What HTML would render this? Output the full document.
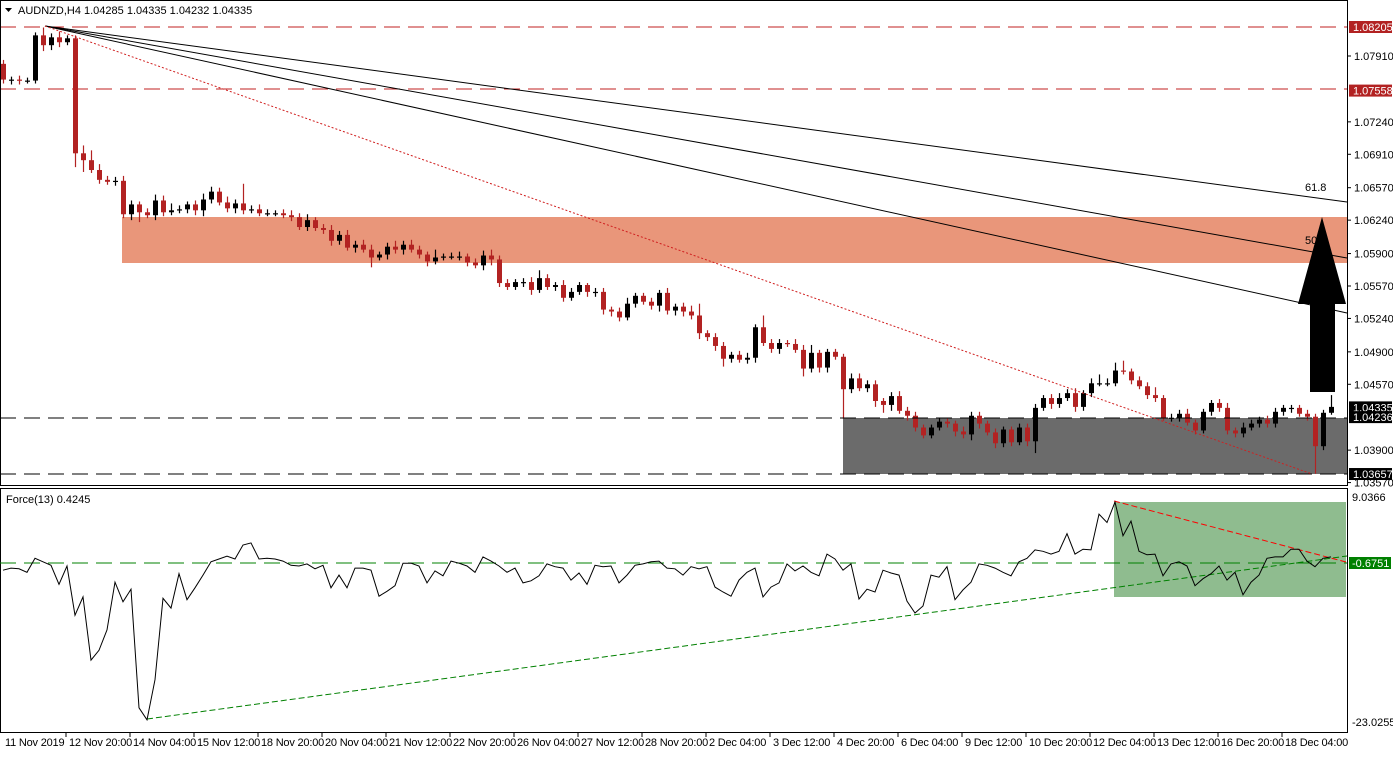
<!DOCTYPE html>
<html><head><meta charset="utf-8">
<style>
html,body{margin:0;padding:0;background:#fff;}
body{width:1393px;height:752px;overflow:hidden;font-family:"Liberation Sans",sans-serif;}
svg text{font-family:"Liberation Sans",sans-serif;font-size:11px;}
</style></head>
<body>
<svg id="chart" width="1393" height="752" viewBox="0 0 1393 752" xmlns="http://www.w3.org/2000/svg">
  <rect x="0" y="0" width="1393" height="752" fill="#fff"/>
  <g id="main-zones">
    <rect x="122" y="217" width="1225" height="46" fill="#e9967a"/>
    <rect x="843" y="418" width="504" height="56" fill="#6b6b6b"/>
  </g>
  <g id="candles"></g>
  <g id="overlays">
    <line x1="0" y1="27" x2="1347" y2="27" stroke="#c02020" stroke-width="1" stroke-dasharray="16,8"/>
    <line x1="0" y1="89" x2="1347" y2="89" stroke="#c02020" stroke-width="1" stroke-dasharray="16,8"/>
    <line x1="0" y1="418" x2="1347" y2="418" stroke="#000" stroke-width="1" stroke-dasharray="16,8"/>
    <line x1="0" y1="474" x2="1347" y2="474" stroke="#000" stroke-width="1" stroke-dasharray="16,8"/>
    <line x1="45" y1="26" x2="1347" y2="202" stroke="#000" stroke-width="1"/>
    <line x1="45" y1="26" x2="1347" y2="258" stroke="#000" stroke-width="1"/>
    <line x1="45" y1="26" x2="1347" y2="313" stroke="#000" stroke-width="1"/>
    <line x1="45" y1="26" x2="1312" y2="474" stroke="#d02020" stroke-width="1" stroke-dasharray="2,2"/>
    <text x="1305" y="191" font-size="10">61.8</text>
    <text x="1305" y="244" font-size="10">50</text>
    <polygon points="1310,392 1335,392 1335,304 1346,304 1322,217 1298,304 1310,304" fill="#000"/>
  </g>
  <text x="18" y="14">AUDNZD,H4  1.04285 1.04335 1.04232 1.04335</text>
  <polygon points="5,8 12,8 8.5,12" fill="#000"/>
  <rect x="0.5" y="0.5" width="1347" height="485" fill="none" stroke="#000"/>
  <rect x="0.5" y="488.5" width="1347" height="244" fill="none" stroke="#000"/>
  <g id="force">
    <rect x="1114" y="502" width="232" height="95" fill="#8fbc8f"/>
    <line x1="0" y1="563" x2="1347" y2="563" stroke="#008000" stroke-dasharray="16,8"/>
    <line x1="147" y1="719" x2="1347" y2="556" stroke="#008000" stroke-dasharray="6,3"/>
    <line x1="1114" y1="501" x2="1346" y2="562" stroke="#ff0000" stroke-dasharray="6,3"/>
    <text x="6" y="503">Force(13) 0.4245</text>
  </g>
  <g id="yaxis"></g>
  <g id="faxis"></g>
  <g id="xaxis"></g>
</svg>
<script>
const closes=[1.0767,1.0767,1.0766,1.0766,1.0812,1.0802,1.0810,1.0805,1.0809,1.0692,1.0685,1.0675,1.0665,1.0663,1.0664,1.0630,1.0640,1.0632,1.0629,1.0644,1.0632,1.0634,1.0635,1.0640,1.0634,1.0645,1.0653,1.0642,1.0636,1.0641,1.0634,1.0635,1.0631,1.0631,1.0631,1.0629,1.0627,1.0617,1.0624,1.0616,1.0614,1.0603,1.0609,1.0596,1.0599,1.0594,1.0586,1.0589,1.0597,1.0594,1.0599,1.0594,1.0589,1.0582,1.0586,1.0587,1.0587,1.0587,1.0581,1.0578,1.0588,1.0584,1.0560,1.0556,1.0561,1.0561,1.0553,1.0565,1.0556,1.0558,1.0545,1.0551,1.0558,1.0551,1.0551,1.0533,1.0531,1.0525,1.0539,1.0547,1.0541,1.0537,1.0550,1.0532,1.0536,1.0531,1.0527,1.0509,1.0505,1.0496,1.0483,1.0487,1.0482,1.0484,1.0515,1.0499,1.0493,1.0499,1.0498,1.0492,1.0473,1.0489,1.0474,1.0490,1.0485,1.0452,1.0463,1.0453,1.0457,1.0440,1.0436,1.0445,1.0430,1.0425,1.0413,1.0405,1.0413,1.0419,1.0417,1.0409,1.0406,1.0425,1.0417,1.0408,1.0397,1.0411,1.0398,1.0413,1.0399,1.0433,1.0443,1.0437,1.0443,1.0448,1.0434,1.0448,1.0458,1.0458,1.0458,1.0471,1.0470,1.0461,1.0455,1.0446,1.0443,1.0423,1.0423,1.0427,1.0418,1.0410,1.0429,1.0438,1.0433,1.0410,1.0407,1.0413,1.0417,1.0421,1.0417,1.0429,1.0433,1.0433,1.0427,1.0424,1.0394,1.0428,1.0434];
const firstOpen=1.0783;
const wickUpPips=[4,3,4,3,3,8,4,6,3,3,8,10,6,4,4,5,4,3,4,6,5,7,4,3,4,6,5,4,6,4,20,4,5,4,3,4,5,4,6,3,4,5,4,5,4,5,5,3,4,6,4,5,4,3,8,3,4,5,3,4,5,6,4,4,3,4,5,8,4,3,5,4,3,2,4,4,3,4,6,3,3,4,3,5,3,4,6,12,3,4,4,3,4,5,3,12,4,4,3,5,5,8,3,3,3,3,5,5,4,4,3,4,5,4,4,3,3,4,3,3,5,4,4,3,4,3,3,4,4,4,3,4,5,4,5,3,5,9,5,8,10,3,4,4,8,3,4,4,5,3,3,3,4,5,3,5,4,3,4,4,3,3,3,4,3,3,12,2];
const wickDnPips=[4,5,4,3,3,6,5,5,3,14,12,3,4,3,4,4,6,10,3,5,4,3,3,4,5,6,4,3,4,5,4,3,3,3,3,3,4,3,4,3,4,5,4,3,5,3,10,3,5,4,5,3,4,5,3,3,3,4,4,3,5,6,4,3,3,5,5,3,3,4,4,3,3,5,5,5,5,4,3,4,3,4,6,4,5,5,4,6,4,5,8,4,3,4,5,3,4,5,3,3,8,4,5,5,3,30,4,3,4,6,8,6,3,5,4,3,3,3,4,5,4,6,5,3,5,4,4,3,5,12,3,5,4,3,5,4,4,3,3,3,3,4,3,4,4,3,4,4,3,4,3,4,4,4,4,4,3,4,4,4,4,5,3,4,28,4,2];
const forceValues=[-1.4,-1.1,-1.2,-1.7,0.3,-0.2,-0.7,-3.4,-0.8,-7.8,-5.2,-14.2,-12.8,-9.9,-3.1,-5.9,-4.1,-21.0,-22.7,-17.0,-5.4,-6.8,-1.9,-5.6,-3.9,-2.1,-0.2,0.2,0.6,0.2,2.2,2.5,0.2,0.3,0.2,-0.1,-0.7,-0.8,-0.5,-1.2,-0.7,-3.9,-2.1,-3.9,-1.1,-1.1,-1.4,-5.1,-4.4,-3.6,-0.4,-0.4,-0.8,-3.2,-1.5,-2.2,-0.1,-0.4,-0.8,-1.7,0.5,-0.1,-0.8,-1.7,-1.1,-3.2,-2.9,-2.2,-0.5,-0.9,-1.1,-2.8,-1.8,-3.4,-0.7,-0.9,-0.8,-3.2,-2.1,-0.7,-0.5,-0.2,-0.1,-1.1,-1.2,-2.1,-0.9,-1.2,-0.9,-3.8,-4.5,-5.1,-2.8,-1.7,-1.1,-5.2,-3.8,-3.2,-0.5,-1.5,-0.8,-1.7,-2.2,0.9,0.2,-1.4,-0.5,-5.5,-4.1,-4.5,-1.4,-1.8,-2.1,-5.8,-7.5,-6.5,-2.1,-2.4,-0.9,-5.6,-4.2,-3.1,-0.5,-0.7,-1.1,-1.7,-2.2,-0.2,0.3,1.5,1.3,0.9,1.3,3.8,0.9,1.6,1.5,6.6,5.4,8.3,3.5,5.6,1.3,0.8,0.9,-2.2,-0.5,-0.2,-0.8,-3.6,-2.6,-1.9,-0.8,-2.8,-1.7,-4.9,-3.1,-2.1,0.3,0.5,0.5,1.6,1.6,-0.1,-0.9,0.3,0.5];
const priceTicks=[1.07910,1.07240,1.06910,1.06570,1.06240,1.05900,1.05570,1.05240,1.04900,1.04570,1.03900,1.03570];
const priceMarkers=[1.08205,1.07558,1.04335,1.04236,1.03657];
const markerColors=["#b22222","#b22222","#000","#000","#000"];
const forceTicks=[9.0366,-23.0255];
const timeLabels=["11 Nov 2019","12 Nov 20:00","14 Nov 04:00","15 Nov 12:00","18 Nov 20:00","20 Nov 04:00","21 Nov 12:00","22 Nov 20:00","26 Nov 04:00","27 Nov 12:00","28 Nov 20:00","2 Dec 04:00","3 Dec 12:00","4 Dec 20:00","6 Dec 04:00","9 Dec 12:00","10 Dec 20:00","12 Dec 04:00","13 Dec 12:00","16 Dec 20:00","18 Dec 04:00"];

const NS="http://www.w3.org/2000/svg";
function yP(p){return 27+(1.08205-p)*9829;}
function xI(i){return 3+8*i;}
function yF(v){return 560.4-v*7.02;}
function mk(tag,parent){const e=document.createElementNS(NS,tag);parent.appendChild(e);return e;}

const cg=document.getElementById('candles');
for(let i=0;i<closes.length;i++){
  const o=i===0?firstOpen:closes[i-1], c=closes[i];
  const top=Math.max(o,c)+wickUpPips[i]*0.0001, bot=Math.min(o,c)-wickDnPips[i]*0.0001;
  const col=c>=o?"#000":"#b22222";
  const x=xI(i);
  const w=mk('line',cg);
  
  
  w.setAttribute('x1',x+0.5);w.setAttribute('x2',x+0.5);
  w.setAttribute('y1',yP(top));w.setAttribute('y2',yP(bot));
  w.setAttribute('stroke',col);w.setAttribute('stroke-width','1.2');
  const b=mk('rect',cg);
  
  
  const y1=yP(Math.max(o,c)),y2=yP(Math.min(o,c));
  b.setAttribute('x',x-2);b.setAttribute('width',5);
  b.setAttribute('y',y1);b.setAttribute('height',Math.max(1.2,y2-y1));
  b.setAttribute('fill',col);
}

const fg=document.getElementById('force');
const pl=mk('polyline',fg);


pl.setAttribute('points',forceValues.map((v,i)=>xI(i)+','+yF(v).toFixed(1)).join(' '));
pl.setAttribute('fill','none');pl.setAttribute('stroke','#000');pl.setAttribute('stroke-width','1');

const ya=document.getElementById('yaxis');
priceTicks.forEach(p=>{
  const y=yP(p);
  const t=mk('line',ya);
  
  
  t.setAttribute('x1',1347);t.setAttribute('x2',1351);t.setAttribute('y1',y);t.setAttribute('y2',y);t.setAttribute('stroke','#000');
  const tx=mk('text',ya);
  
  
  tx.setAttribute('x',1354);tx.setAttribute('y',y+4);tx.setAttribute('font-size','9.5');
  tx.textContent=p.toFixed(5);
});
priceMarkers.forEach((p,k)=>{
  const y=yP(p);
  const r=mk('rect',ya);
  
  
  r.setAttribute('x',1349);r.setAttribute('y',y-6);r.setAttribute('width',43);r.setAttribute('height',12);r.setAttribute('fill',markerColors[k]);
  const tx=mk('text',ya);
  
  
  tx.setAttribute('x',1353);tx.setAttribute('y',y+4);tx.setAttribute('font-size','9.5');tx.setAttribute('fill','#fff');
  tx.textContent=p.toFixed(5);
});
const fa=document.getElementById('faxis');
forceTicks.forEach(v=>{
  const y=yF(v);
  const tx=mk('text',fa);
  
  
  tx.setAttribute('x',1352);tx.setAttribute('y',y+4);tx.setAttribute('font-size','9.5');
  tx.textContent=v.toFixed(4);
});
const fr=mk('rect',fa);


fr.setAttribute('x',1349);fr.setAttribute('y',557);fr.setAttribute('width',42);fr.setAttribute('height',12);fr.setAttribute('fill','#008000');
const ft=mk('text',fa);


ft.setAttribute('x',1352);ft.setAttribute('y',567);ft.setAttribute('font-size','9.5');ft.setAttribute('fill','#fff');
ft.textContent='-0.6751';

const xa=document.getElementById('xaxis');
timeLabels.forEach((s,k)=>{
  const x=2+64*k;
  if(k>0){
    const t=mk('line',xa);
    
    
    t.setAttribute('x1',x);t.setAttribute('x2',x);t.setAttribute('y1',733);t.setAttribute('y2',737);t.setAttribute('stroke','#000');
  }
  const tx=mk('text',xa);
  
  
  tx.setAttribute('x',x+3);tx.setAttribute('y',746);tx.setAttribute('font-size','9.5');tx.setAttribute('letter-spacing','-0.2');
  tx.textContent=s;
});
</script>
</body></html>
